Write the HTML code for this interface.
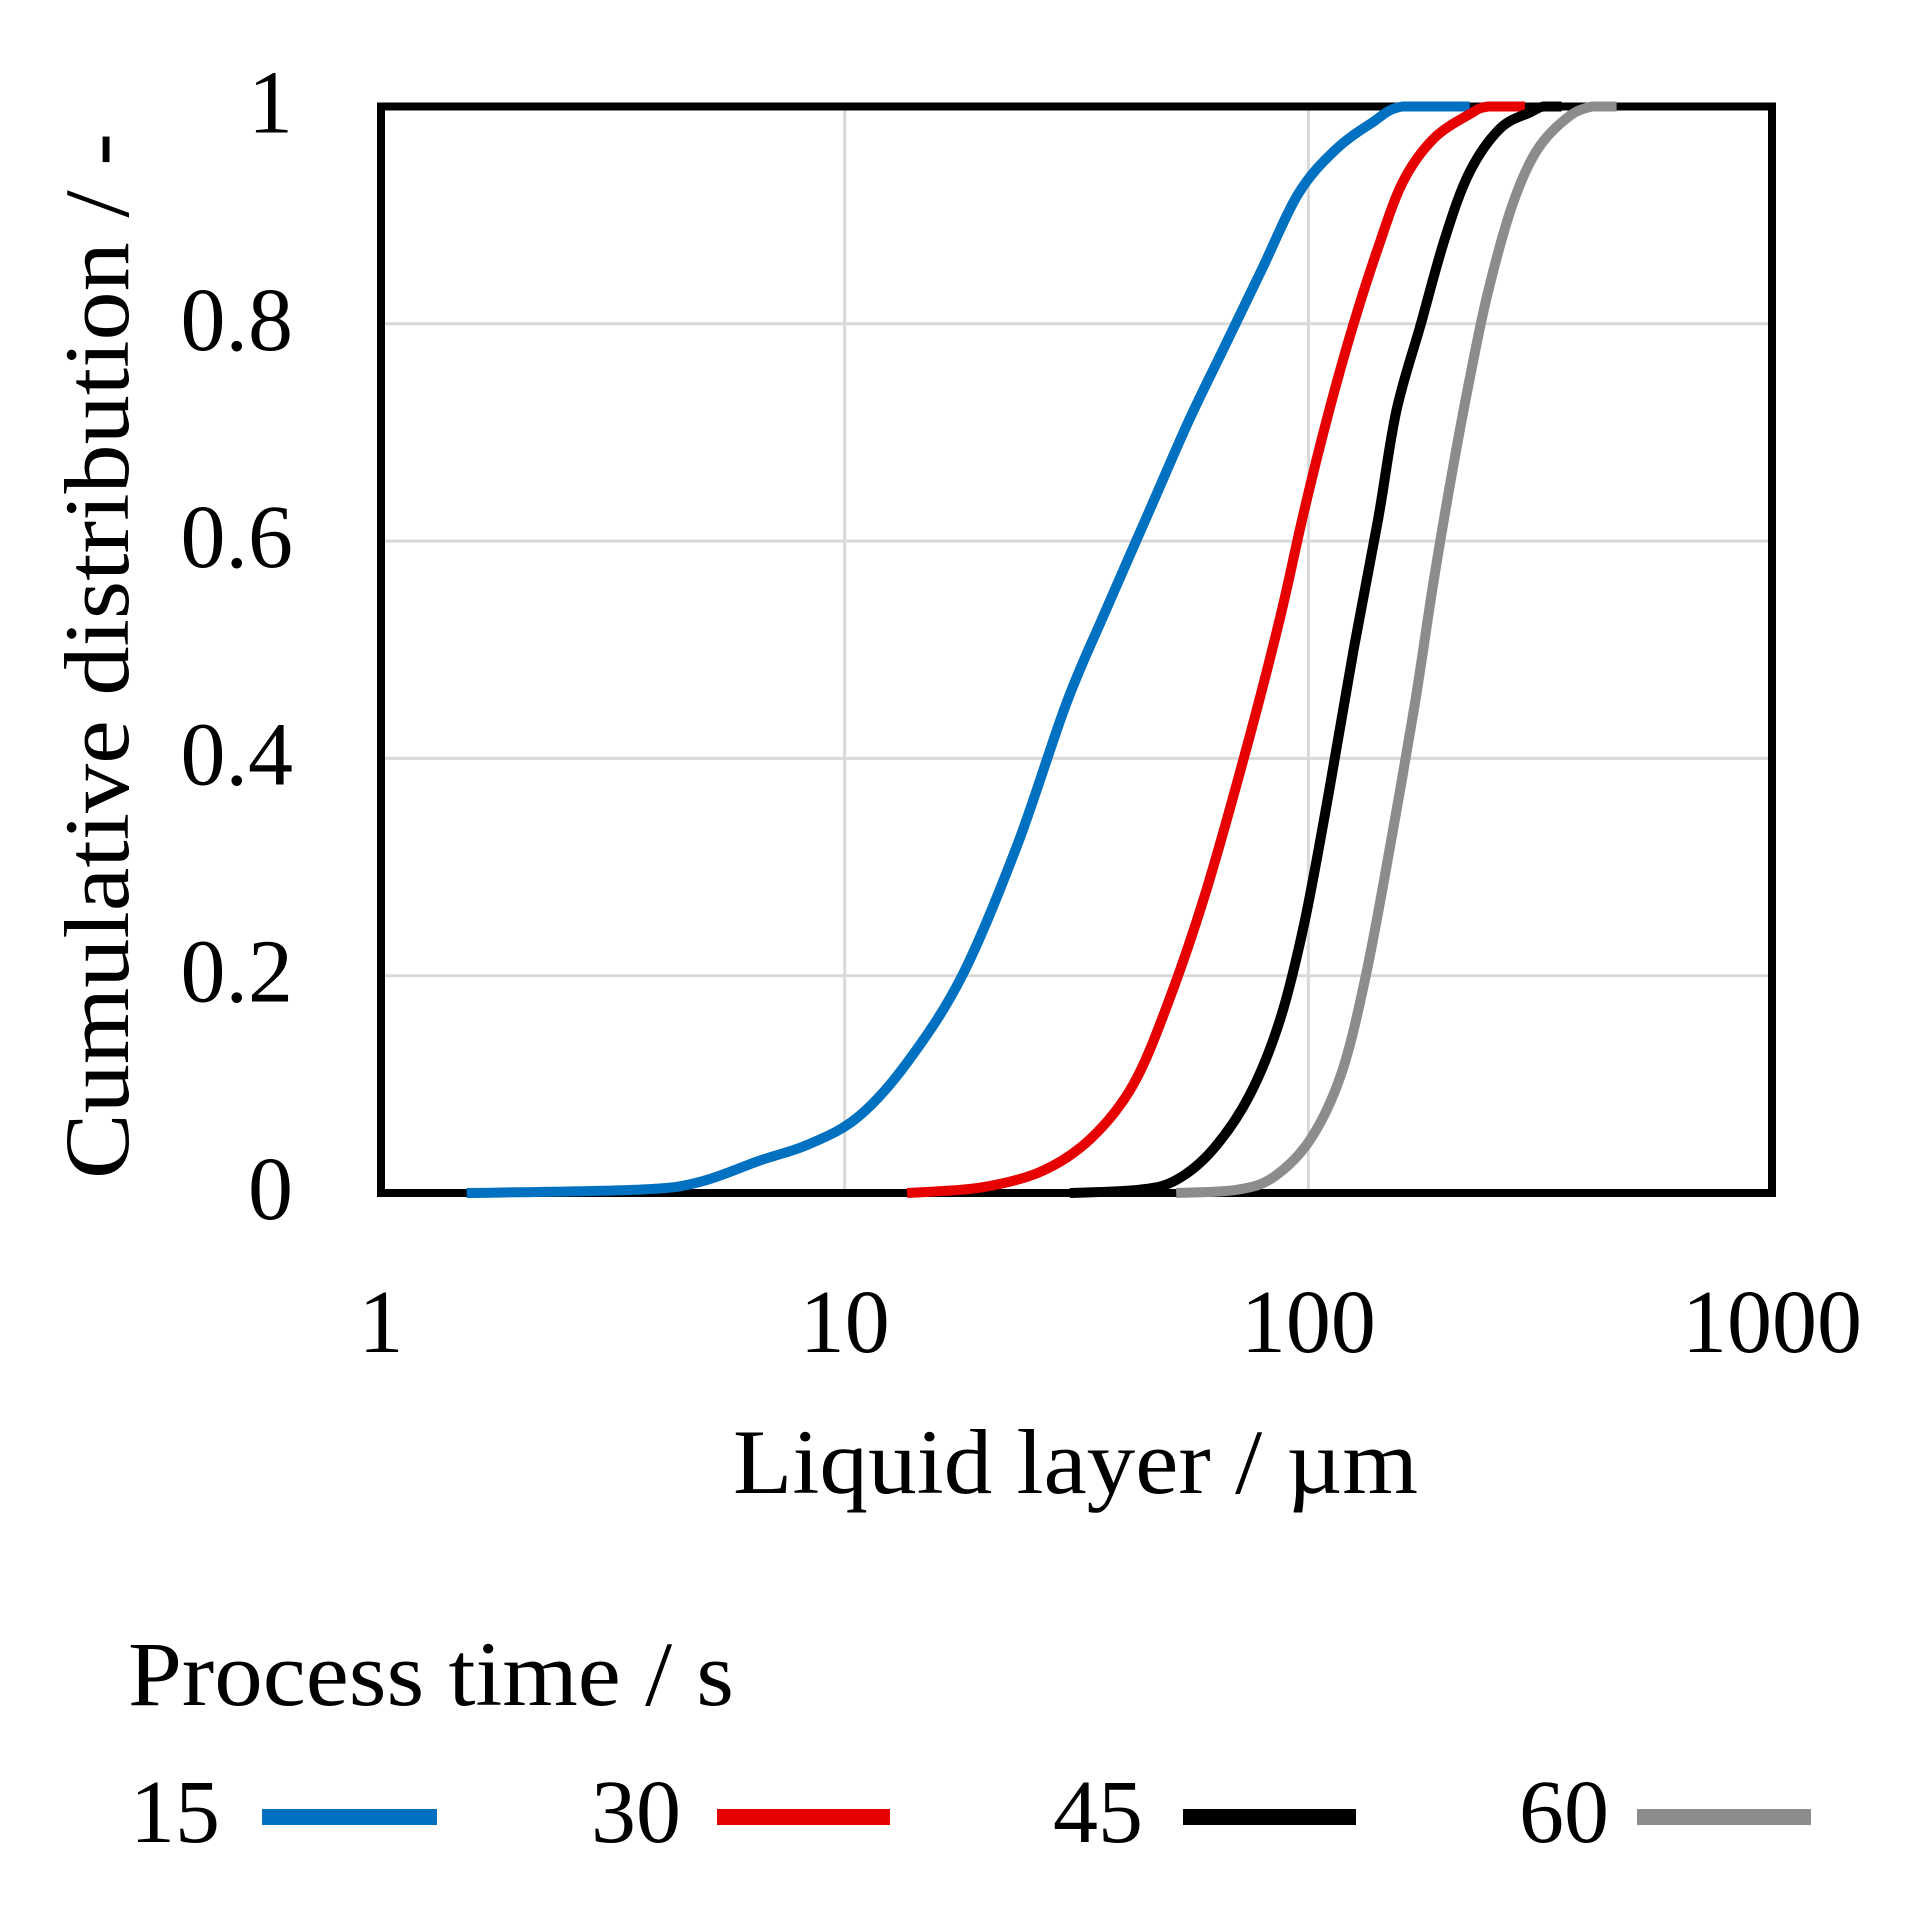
<!DOCTYPE html>
<html><head><meta charset="utf-8"><style>
html,body{margin:0;padding:0;background:#fff;}
svg{display:block;}
text{font-family:"Liberation Serif",serif;fill:#000;}
</style></head><body>
<svg id="s" width="1920" height="1912" viewBox="0 0 1920 1912" xmlns="http://www.w3.org/2000/svg">
<rect width="1920" height="1912" fill="#fff"/>
<g stroke="#d9d9d9" stroke-width="3">
<line x1="844.7" y1="106.5" x2="844.7" y2="1193"/>
<line x1="1308.4" y1="106.5" x2="1308.4" y2="1193"/>
<line x1="381" y1="323.8" x2="1772" y2="323.8"/>
<line x1="381" y1="541.1" x2="1772" y2="541.1"/>
<line x1="381" y1="758.4" x2="1772" y2="758.4"/>
<line x1="381" y1="975.7" x2="1772" y2="975.7"/>
</g>
<rect x="381" y="106.5" width="1391" height="1086.5" fill="none" stroke="#000" stroke-width="8"/>
<g id="curves" fill="none" stroke-width="10" stroke-linejoin="round" stroke-linecap="butt"></g>
<g font-size="90" text-anchor="end">
<text x="293" y="1219">0</text>
<text x="293" y="1001.7">0.2</text>
<text x="293" y="784.4">0.4</text>
<text x="293" y="567.1">0.6</text>
<text x="293" y="349.8">0.8</text>
<text x="293" y="132.5">1</text>
</g>
<g font-size="90" text-anchor="middle">
<text x="381" y="1352">1</text>
<text x="844.7" y="1352">10</text>
<text x="1308.4" y="1352">100</text>
<text x="1772" y="1352">1000</text>
</g>
<text x="733" y="1493" font-size="92" textLength="685" lengthAdjust="spacingAndGlyphs">Liquid layer / µm</text>
<text transform="translate(128,1179) rotate(-90)" font-size="92" textLength="1046" lengthAdjust="spacingAndGlyphs">Cumulative distribution / -</text>
<text x="128" y="1705" font-size="92" textLength="606" lengthAdjust="spacingAndGlyphs">Process time / s</text>
<g font-size="90">
<text x="130" y="1842">15</text>
<text x="591" y="1842">30</text>
<text x="1053" y="1842">45</text>
<text x="1519" y="1842">60</text>
</g>
<g stroke-width="16">
<line x1="262" y1="1817" x2="437" y2="1817" stroke="#0070c0"/>
<line x1="717" y1="1817" x2="890" y2="1817" stroke="#e60000"/>
<line x1="1183" y1="1817" x2="1356" y2="1817" stroke="#000"/>
<line x1="1637" y1="1817" x2="1811" y2="1817" stroke="#8c8c8c"/>
</g>
</svg>
<script>
var Y0=1193,H=1086.5;
function X(xd){return 381+(xd-310)*(1391/1137);}
var series=[
 {c:"#0070c0",p:[[380,0],[520,0.003],[570,0.01],[620,0.03],[660,0.045],[700,0.07],[740,0.12],[785,0.2],[830,0.32],[870,0.45],[900,0.53],[935,0.62],[970,0.71],[1000,0.78],[1030,0.85],[1060,0.92],[1090,0.96],[1120,0.985],[1145,1],[1200,1]]},
 {c:"#e60000",p:[[740,0],[800,0.005],[850,0.02],[890,0.05],[925,0.1],[955,0.18],[985,0.28],[1020,0.42],[1045,0.53],[1065,0.63],[1085,0.72],[1105,0.8],[1125,0.87],[1145,0.93],[1170,0.97],[1200,0.993],[1215,1],[1245,1]]},
 {c:"#000000",p:[[873,0],[930,0.003],[960,0.012],[990,0.04],[1020,0.09],[1045,0.16],[1065,0.25],[1085,0.37],[1105,0.5],[1125,0.62],[1140,0.72],[1160,0.8],[1180,0.88],[1200,0.94],[1225,0.98],[1250,0.995],[1260,1],[1275,1]]},
 {c:"#8c8c8c",p:[[960,0],[1010,0.003],[1040,0.015],[1070,0.05],[1095,0.11],[1115,0.2],[1135,0.32],[1155,0.45],[1170,0.56],[1185,0.66],[1200,0.75],[1215,0.83],[1235,0.91],[1255,0.96],[1280,0.99],[1300,1],[1320,1]]}
];
var g=document.getElementById("curves");
series.forEach(function(s){
 var P=s.p.map(function(q){return [X(q[0]),Y0-H*q[1]];});
 var d="M"+P[0][0].toFixed(1)+" "+P[0][1].toFixed(1);
 for(var i=0;i<P.length-1;i++){
  var p0=P[i>0?i-1:i],p1=P[i],p2=P[i+1],p3=P[i+2<P.length?i+2:i+1];
  var c1x=p1[0]+(p2[0]-p0[0])/6,c1y=p1[1]+(p2[1]-p0[1])/6;
  var c2x=p2[0]-(p3[0]-p1[0])/6,c2y=p2[1]-(p3[1]-p1[1])/6;
  c1y=Math.min(Math.max(c1y,106.5),Y0);c2y=Math.min(Math.max(c2y,106.5),Y0);
  d+="C"+c1x.toFixed(1)+" "+c1y.toFixed(1)+" "+c2x.toFixed(1)+" "+c2y.toFixed(1)+" "+p2[0].toFixed(1)+" "+p2[1].toFixed(1);
 }
 var e=document.createElementNS("http://www.w3.org/2000/svg","path");
 e.setAttribute("d",d);e.setAttribute("stroke",s.c);g.appendChild(e);
});
</script>
</body></html>
